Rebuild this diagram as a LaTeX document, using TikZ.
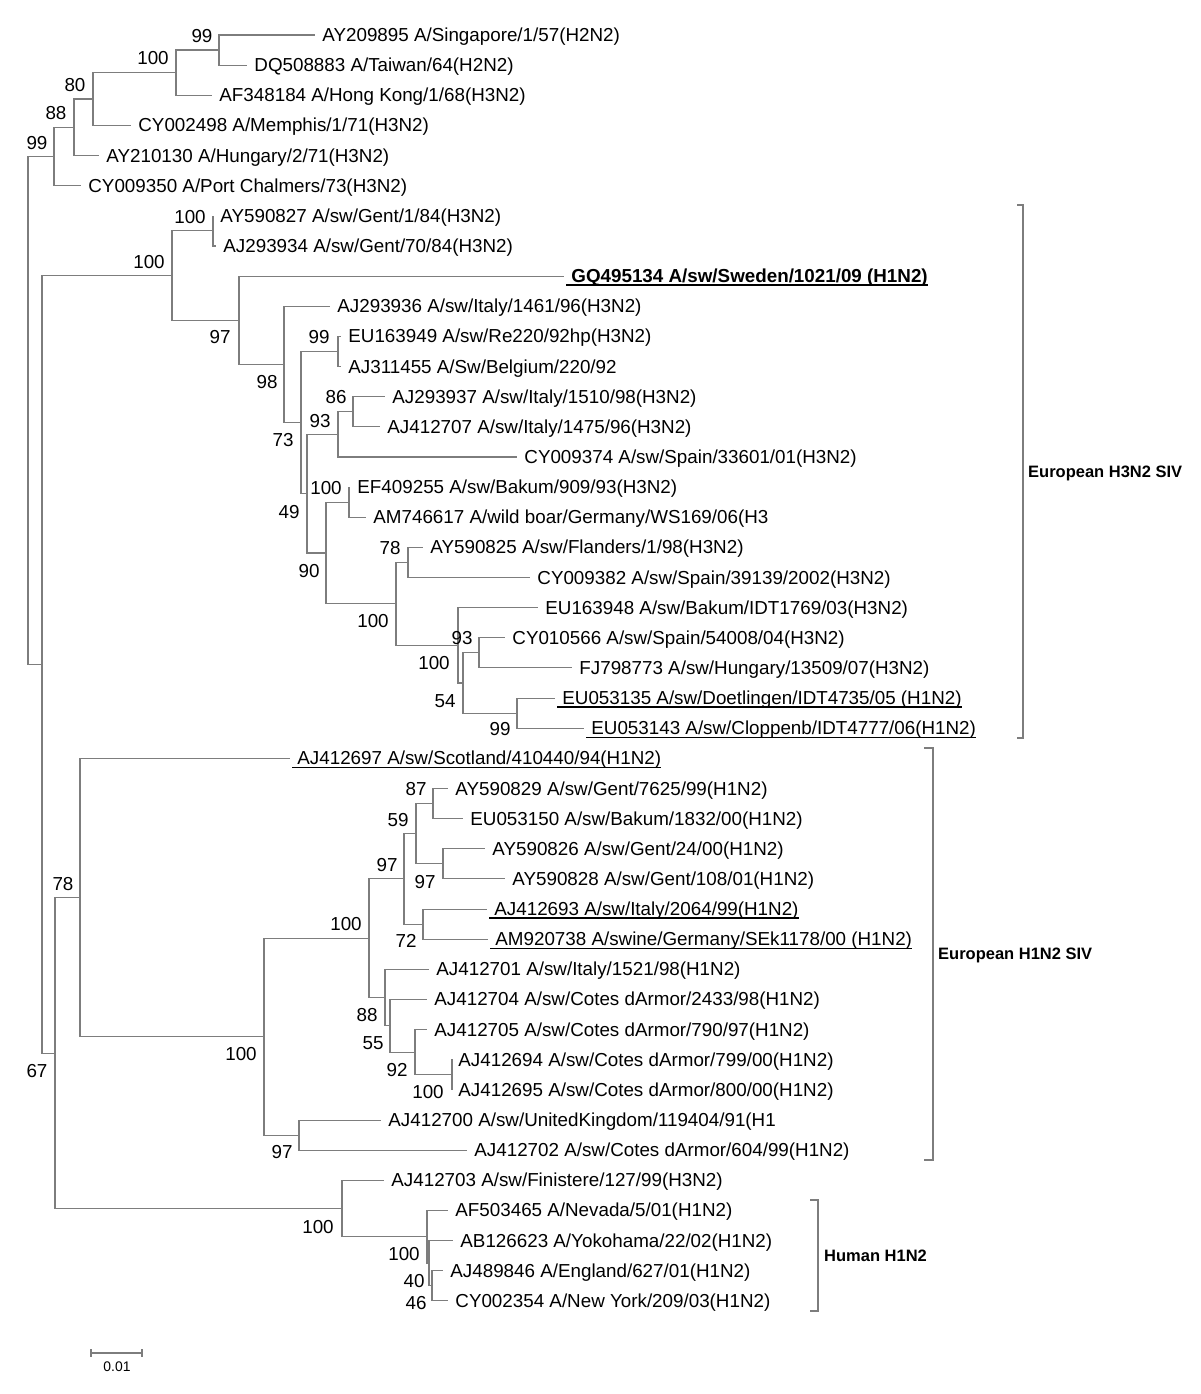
\documentclass[tikz,border=0pt]{standalone}
\usepackage{fontspec}
\setmainfont{Liberation Sans}
\definecolor{treegray}{RGB}{125,125,125}
\tikzset{
  branch/.style={draw=treegray, line width=1.1pt},
  leaflab/.style={inner xsep=2pt, inner ysep=0pt, anchor=base west, font=\fontsize{18.8}{20}\selectfont},
  boot/.style={inner sep=0pt, font=\fontsize{18.8}{20}\selectfont},
  uline/.style={line width=1.3pt},
  bracket/.style={draw=treegray, line width=1.1pt},
  cladelab/.style={anchor=west, inner sep=0pt, font=\fontsize{16.5}{18}\selectfont\bfseries}
}
% leaf: number, tip x, text
\newcommand{\leaf}[3]{%
  \coordinate (t#1) at (#2,{35+(#1-1)*30.14});
  \node[leaflab] (l#1) at ([yshift=-6.5pt]t#1) {\ #3};}
\newcommand{\uleaf}[3]{%
  \leaf{#1}{#2}{#3}
  \draw[uline] ([xshift=2pt,yshift=-2.5pt]l#1.base west) -- ([xshift=-2pt,yshift=-2.5pt]l#1.base east);}
\begin{document}
\begin{tikzpicture}[x=1pt,y=-1pt]
    \useasboundingbox (0,0) rectangle (1200,1394);
    % inner nodes
    \coordinate (root) at (28,410.4);
    \coordinate (nA) at (54,156.5);
    \coordinate (nC) at (74,127.3);
    \coordinate (nD) at (93,99.0);
    \coordinate (nE) at (176,72.7);
    \coordinate (nF) at (219,50.05);
    \coordinate (nB) at (42,664.35);
    \coordinate (nG) at (172,275.6);
    \coordinate (nI) at (213,230.9);
    \coordinate (nJ) at (239,320.3);
    \coordinate (nK) at (284,364.45);
    \coordinate (nL) at (301,422.6);
    \coordinate (nM) at (338,351.45);
    \coordinate (nN) at (307,493.7);
    \coordinate (nO) at (338,434.4);
    \coordinate (nQ) at (353,411.75);
    \coordinate (nP) at (326,553.0);
    \coordinate (nS) at (349,502.15);
    \coordinate (nT) at (396,603.9);
    \coordinate (nU) at (408,562.45);
    \coordinate (nV) at (458,645.35);
    \coordinate (nW) at (463,683);
    \coordinate (nX) at (479,652.85);
    \coordinate (nY) at (517,713.15);
    \coordinate (nH) at (55,1053.1);
    \coordinate (nZ) at (80,897.55);
    \coordinate (nBB) at (264,1036.7);
    \coordinate (nCC) at (369,938.25);
    \coordinate (nEE) at (404,878.9);
    \coordinate (nGG) at (416,833.7);
    \coordinate (nII) at (433,803.55);
    \coordinate (nJJ) at (443,863.85);
    \coordinate (nHH) at (423,924.15);
    \coordinate (nFF) at (385,997.6);
    \coordinate (nKK) at (390,1025.85);
    \coordinate (nLL) at (415,1052.2);
    \coordinate (nMM) at (452,1074.85);
    \coordinate (nDD) at (299,1135.1);
    \coordinate (nAA) at (342,1208.6);
    \coordinate (nNN) at (427,1236.85);
    \coordinate (nOO) at (429,1263.2);
    \coordinate (nPP) at (432,1285.8);
    % leaves
    \leaf{1}{315}{AY209895 A/Singapore/1/57(H2N2)}
    \leaf{2}{247}{DQ508883 A/Taiwan/64(H2N2)}
    \leaf{3}{212}{AF348184 A/Hong Kong/1/68(H3N2)}
    \leaf{4}{131}{CY002498 A/Memphis/1/71(H3N2)}
    \leaf{5}{99}{AY210130 A/Hungary/2/71(H3N2)}
    \leaf{6}{81}{CY009350 A/Port Chalmers/73(H3N2)}
    \leaf{7}{213}{AY590827 A/sw/Gent/1/84(H3N2)}
    \leaf{8}{216}{AJ293934 A/sw/Gent/70/84(H3N2)}
    \uleaf{9}{564}{\bfseries GQ495134 A/sw/Sweden/1021/09 (H1N2)}
    \leaf{10}{330}{AJ293936 A/sw/Italy/1461/96(H3N2)}
    \leaf{11}{341}{EU163949 A/sw/Re220/92hp(H3N2)}
    \leaf{12}{341}{AJ311455 A/Sw/Belgium/220/92}
    \leaf{13}{385}{AJ293937 A/sw/Italy/1510/98(H3N2)}
    \leaf{14}{380}{AJ412707 A/sw/Italy/1475/96(H3N2)}
    \leaf{15}{517}{CY009374 A/sw/Spain/33601/01(H3N2)}
    \leaf{16}{350}{EF409255 A/sw/Bakum/909/93(H3N2)}
    \leaf{17}{366}{AM746617 A/wild boar/Germany/WS169/06(H3}
    \leaf{18}{423}{AY590825 A/sw/Flanders/1/98(H3N2)}
    \leaf{19}{530}{CY009382 A/sw/Spain/39139/2002(H3N2)}
    \leaf{20}{538}{EU163948 A/sw/Bakum/IDT1769/03(H3N2)}
    \leaf{21}{505}{CY010566 A/sw/Spain/54008/04(H3N2)}
    \leaf{22}{572}{FJ798773 A/sw/Hungary/13509/07(H3N2)}
    \uleaf{23}{555}{EU053135 A/sw/Doetlingen/IDT4735/05 (H1N2)}
    \uleaf{24}{584}{EU053143 A/sw/Cloppenb/IDT4777/06(H1N2)}
    \uleaf{25}{290}{AJ412697 A/sw/Scotland/410440/94(H1N2)}
    \leaf{26}{448}{AY590829 A/sw/Gent/7625/99(H1N2)}
    \leaf{27}{463}{EU053150 A/sw/Bakum/1832/00(H1N2)}
    \leaf{28}{485}{AY590826 A/sw/Gent/24/00(H1N2)}
    \leaf{29}{505}{AY590828 A/sw/Gent/108/01(H1N2)}
    \uleaf{30}{487}{AJ412693 A/sw/Italy/2064/99(H1N2)}
    \uleaf{31}{488}{AM920738 A/swine/Germany/SEk1178/00 (H1N2)}
    \leaf{32}{429}{AJ412701 A/sw/Italy/1521/98(H1N2)}
    \leaf{33}{427}{AJ412704 A/sw/Cotes dArmor/2433/98(H1N2)}
    \leaf{34}{427}{AJ412705 A/sw/Cotes dArmor/790/97(H1N2)}
    \leaf{35}{451}{AJ412694 A/sw/Cotes dArmor/799/00(H1N2)}
    \leaf{36}{451}{AJ412695 A/sw/Cotes dArmor/800/00(H1N2)}
    \leaf{37}{381}{AJ412700 A/sw/UnitedKingdom/119404/91(H1}
    \leaf{38}{467}{AJ412702 A/sw/Cotes dArmor/604/99(H1N2)}
    \leaf{39}{384}{AJ412703 A/sw/Finistere/127/99(H3N2)}
    \leaf{40}{448}{AF503465 A/Nevada/5/01(H1N2)}
    \leaf{41}{453}{AB126623 A/Yokohama/22/02(H1N2)}
    \leaf{42}{443}{AJ489846 A/England/627/01(H1N2)}
    \leaf{43}{448}{CY002354 A/New York/209/03(H1N2)}
    % branches
    \foreach \p/\c in {root/nA, root/nB, nA/nC, nA/t6, nC/nD, nC/t5, nD/nE, nD/t4,
        nE/nF, nE/t3, nF/t1, nF/t2, nB/nG, nB/nH, nG/nI, nG/nJ, nI/t7, nI/t8,
        nJ/t9, nJ/nK, nK/t10, nK/nL, nL/nM, nL/nN, nM/t11, nM/t12, nN/nO, nN/nP,
        nO/nQ, nO/t15, nQ/t13, nQ/t14, nP/nS, nP/nT, nS/t16, nS/t17, nT/nU, nT/nV,
        nU/t18, nU/t19, nV/t20, nV/nW, nW/nX, nW/nY, nX/t21, nX/t22, nY/t23, nY/t24,
        nH/nZ, nH/nAA, nZ/t25, nZ/nBB, nBB/nCC, nBB/nDD, nCC/nEE, nCC/nFF,
        nEE/nGG, nEE/nHH, nGG/nII, nGG/nJJ, nII/t26, nII/t27, nJJ/t28, nJJ/t29,
        nHH/t30, nHH/t31, nFF/t32, nFF/nKK, nKK/t33, nKK/nLL, nLL/t34, nLL/nMM,
        nMM/t35, nMM/t36, nDD/t37, nDD/t38, nAA/t39, nAA/nNN, nNN/t40, nNN/nOO,
        nOO/t41, nOO/nPP, nPP/t42, nPP/t43}
        \draw[branch] (\p) |- (\c);
    % bootstrap values
    \foreach \x/\y/\v [count=\k] in {202/36/99, 153/58/100, 75/85/80, 56/113/88, 37/143/99,
        190/217/100, 149/262/100, 220/337/97, 267/382/98, 283/440/73, 319/337/99,
        320/421/93, 336/397/86, 289/512/49, 326/488/100, 309/571/90, 390/548/78,
        373/621/100, 462/638/93, 434/663/100, 445/701/54, 500/729/99,
        63/884/78, 37/1071/67, 416/789/87, 398/820/59, 387/865/97, 425/882/97,
        346/924/100, 406/941/72, 367/1015/88, 373/1043/55, 397/1070/92, 428/1092/100,
        241/1054/100, 282/1152/97, 318/1227/100, 404/1254/100, 414/1281/40, 416/1303/46}
        \node[boot] (bs\k) at (\x,\y) {\v};
    % clade brackets
    \draw[bracket] (1017,205) -- (1023,205) -- (1023,738) -- (1017,738);
    \node[cladelab] (euh3) at (1028,473) {European H3N2 SIV};
    \draw[bracket] (924,748) -- (933,748) -- (933,1160) -- (924,1160);
    \node[cladelab] (euh1) at (938,955) {European H1N2 SIV};
    \draw[bracket] (810,1200) -- (818,1200) -- (818,1311) -- (810,1311);
    \node[cladelab] (human) at (824,1256) {Human H1N2};
    % scale bar
    \draw[bracket] (91,1349) -- (91,1357) (91,1353) -- (142,1353) (142,1349) -- (142,1357);
    \node[inner sep=0pt, font=\fontsize{13.9}{15}\selectfont] (sbar) at (117,1367) {0.01};
\end{tikzpicture}
\end{document}
